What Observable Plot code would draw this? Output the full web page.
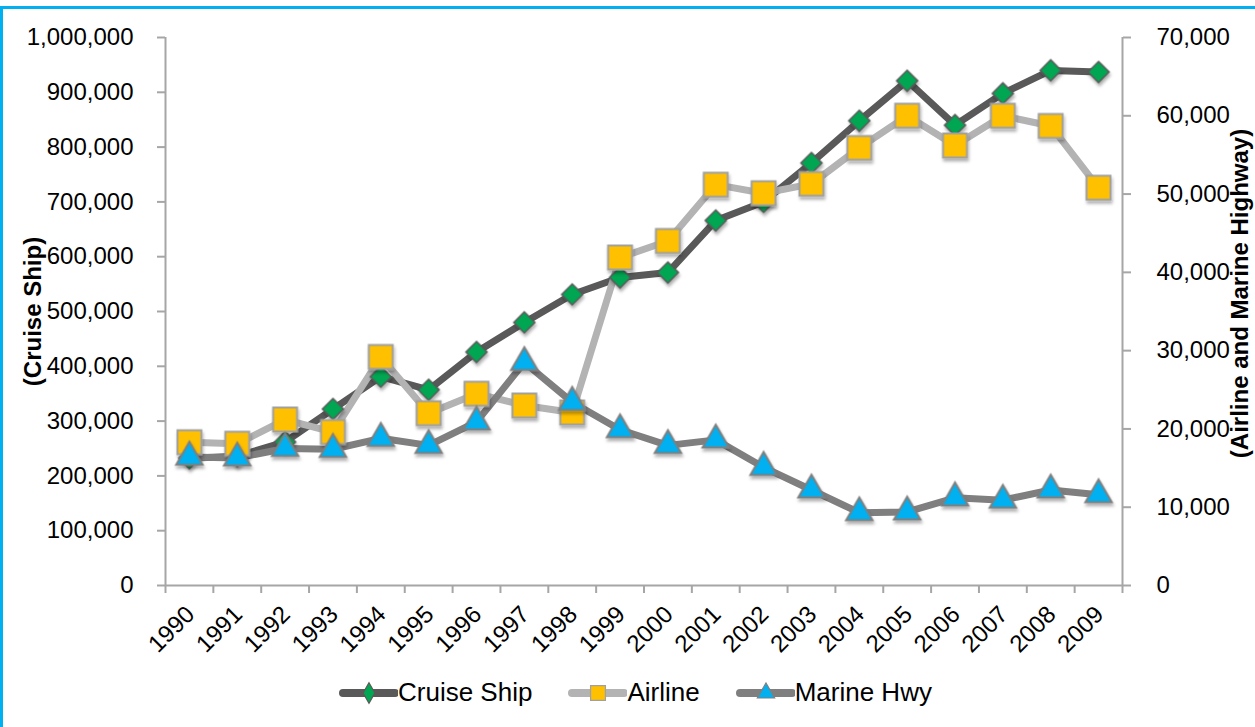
<!DOCTYPE html>
<html><head><meta charset="utf-8">
<script src="https://cdn.jsdelivr.net/npm/d3@7"></script>
<script src="https://cdn.jsdelivr.net/npm/@observablehq/plot@0.6"></script>
<style>
html,body{margin:0;padding:0;background:#fff;overflow:hidden;}
body{width:1255px;height:727px;position:relative;font-family:"Liberation Sans",Arial,sans-serif;}
#border{position:absolute;left:0;top:6px;width:1280px;height:760px;border-left:3px solid #00b0f0;border-top:3px solid #00b0f0;box-sizing:border-box;pointer-events:none;}
#chart{position:absolute;left:0;top:0;}
#legend{position:absolute;left:338px;top:677px;display:flex;align-items:center;font-size:26px;color:#000;}
.item{display:flex;align-items:center;margin-right:35px;}
.item svg{display:block;}
</style></head><body>
<div id="chart"></div><div id="legend"></div><div id="border"></div>
<script>
// ---- data ----
const years = [1990,1991,1992,1993,1994,1995,1996,1997,1998,1999,2000,2001,2002,2003,2004,2005,2006,2007,2008,2009];
const cruiseShip = [232000,236000,262000,322000,381000,357000,426000,480000,531000,562000,571000,666000,700000,771000,848000,921000,840000,898000,940000,937000];
const airline = [18300,18100,21200,19600,29200,22000,24500,23000,22100,41900,44000,51200,50100,51300,55900,60000,56200,60000,58700,50800];
const marineHwy = [16400,16300,17500,17400,18800,17900,20900,28500,23400,19900,17900,18600,15100,12200,9300,9400,11200,10900,12200,11600];
const leftTicks = [0,100000,200000,300000,400000,500000,600000,700000,800000,900000,1000000];
const rightTicks = [0,10000,20000,30000,40000,50000,60000,70000];
const seriesNames = ["Cruise Ship","Airline","Marine Hwy"];
const leftTitle = "(Cruise Ship)";
const rightTitle = "(Airline and Marine Highway)";

// ---- build ----
const leftMax = d3.max(leftTicks), rightMax = d3.max(rightTicks);
const k = leftMax / rightMax; // map right-axis values onto left scale
const rows = years.map((y, i) => ({year: y, cruise: cruiseShip[i], airline: airline[i] * k, marine: marineHwy[i] * k}));
const x0 = d3.min(years) - 0.5, x1 = d3.max(years) + 0.5;
const boundaries = years.map(y => y - 0.5).concat([x1]);
const fmt = d3.format(",");
const axisGray = "#a6a6a6";
const colors = {cruiseLine: "#595959", airlineLine: "#b3b3b3", marineLine: "#7f7f7f"};

const chart = Plot.plot({
  width: 1255,
  height: 690,
  marginLeft: 165,
  marginRight: 133,
  marginTop: 37,
  marginBottom: 105,
  style: {fontFamily: '"Liberation Sans", Arial, sans-serif', fontSize: "24px", color: "#000", background: "transparent", overflow: "visible"},
  x: {type: "linear", domain: [x0, x1]},
  y: {domain: [0, leftMax]},
  marks: [
    Plot.ruleY([0], {stroke: axisGray, strokeWidth: 2}),
    Plot.ruleX([x0, x1], {stroke: axisGray, strokeWidth: 2}),
    Plot.axisY({ticks: leftTicks, tickFormat: fmt, tickSize: 8, tickPadding: 24, fontSize: 24, stroke: axisGray, strokeWidth: 2, fill: "#000", label: null}),
    Plot.axisY({anchor: "right", ticks: rightTicks.map(v => v * k), tickFormat: d => fmt(Math.round(d / k)), tickSize: 8, tickPadding: 26, fontSize: 24, stroke: axisGray, strokeWidth: 2, fill: "#000", label: null}),
    Plot.axisX({ticks: boundaries, tickSize: 8, tickFormat: () => "", stroke: axisGray, strokeWidth: 2, label: null}),
    Plot.axisX({ticks: years, tickSize: 0, tickPadding: 25, tickRotate: -45, tickFormat: d => String(d), fontSize: 24, fill: "#000", label: null, dx: 1}),
    Plot.text([leftTitle], {text: d => d, frameAnchor: "left", textAnchor: "middle", rotate: -90, dx: -132, fontWeight: "bold", fontSize: 24, fill: "#000"}),
    Plot.text([rightTitle], {text: d => d, frameAnchor: "right", textAnchor: "middle", rotate: -90, dx: 118, dy: -18, fontWeight: "bold", fontSize: 24, fill: "#000"}),
    Plot.lineY(rows, {x: "year", y: "cruise", stroke: colors.cruiseLine, strokeWidth: 7}),
    Plot.lineY(rows, {x: "year", y: "airline", stroke: colors.airlineLine, strokeWidth: 7}),
    Plot.lineY(rows, {x: "year", y: "marine", stroke: colors.marineLine, strokeWidth: 7}),
    Plot.dot(rows, {x: "year", y: "cruise", symbol: "diamond2", r: 9.5, fill: "#00a651", stroke: "#595959", strokeWidth: 1.5}),
    Plot.dot(rows, {x: "year", y: "airline", symbol: "square", r: 13.5, fill: "#ffc000", stroke: "#a0a0a0", strokeWidth: 2}),
    Plot.dot(rows, {x: "year", y: "marine", symbol: "triangle", r: 9.8, fill: "#00b0f0", stroke: "#7f7f7f", strokeWidth: 2})
  ]
});
// soft shadow for markers (Excel-like)
const svgSel = d3.select(chart);
const defs = svgSel.insert("defs", ":first-child");
const f = defs.append("filter").attr("id", "mkshadow").attr("x", "-20%").attr("y", "-20%").attr("width", "140%").attr("height", "150%");
f.append("feDropShadow").attr("dx", 1).attr("dy", 3).attr("stdDeviation", 1.5).attr("flood-color", "#000").attr("flood-opacity", 0.3);
svgSel.selectAll('g[aria-label="dot"]').attr("filter", "url(#mkshadow)");
document.getElementById("chart").appendChild(chart);

// ---- legend ----
const legendSpec = [
  {name: seriesNames[0], line: colors.cruiseLine, symbol: d3.symbolDiamond, size: 120, fill: "#00a651", stroke: "#595959"},
  {name: seriesNames[1], line: colors.airlineLine, symbol: d3.symbolSquare, size: 220, fill: "#ffc000", stroke: "#a0a0a0"},
  {name: seriesNames[2], line: colors.marineLine, symbol: d3.symbolTriangle, size: 130, fill: "#00b0f0", stroke: "#7f7f7f"}
];
const legend = d3.select("#legend");
for (const s of legendSpec) {
  const item = legend.append("div").attr("class", "item");
  const svg = item.append("svg").attr("width", 60).attr("height", 26);
  svg.append("line").attr("x1", 5).attr("x2", 57).attr("y1", 13).attr("y2", 13)
    .attr("stroke", s.line).attr("stroke-width", 8).attr("stroke-linecap", "round");
  svg.append("path").attr("transform", "translate(31,13)").attr("d", d3.symbol(s.symbol, s.size)())
    .attr("fill", s.fill).attr("stroke", s.stroke).attr("stroke-width", 1.2);
  item.append("span").text(s.name);
}
</script>
</body></html>
